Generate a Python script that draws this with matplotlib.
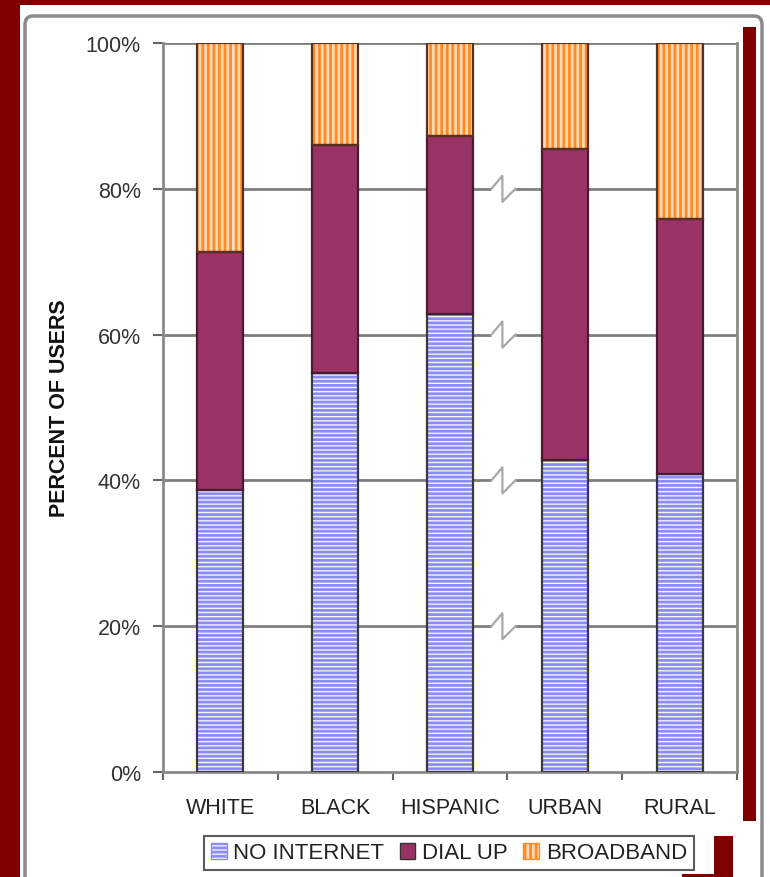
import matplotlib
matplotlib.use("Agg")
import matplotlib.pyplot as plt
from matplotlib.patches import Rectangle, FancyBboxPatch, Patch
import numpy as np

categories = ["WHITE", "BLACK", "HISPANIC", "URBAN", "RURAL"]
no_internet = [38.7, 54.7, 62.8, 42.8, 40.9]
dial_up = [32.6, 31.3, 24.4, 42.7, 35.0]
broadband = [28.7, 14.0, 12.8, 14.5, 24.1]
yticks = [0, 20, 40, 60, 80, 100]
ytick_labels = ["0%", "20%", "40%", "60%", "80%", "100%"]
ylabel = "PERCENT OF USERS"
legend_labels = ["NO INTERNET", "DIAL UP", "BROADBAND"]

plt.rcParams['font.family'] = ['Liberation Sans', 'DejaVu Sans']
plt.rcParams['hatch.linewidth'] = 2.0

W, H = 770, 878
fig = plt.figure(figsize=(W / 100, H / 100), dpi=100)
fig.patch.set_facecolor('white')

def fx(px):
    return px / W

def fy(py):
    return 1 - py / H

# decorative frame
fig.patches.append(Rectangle((0, 0), fx(20), 1, transform=fig.transFigure,
                             facecolor='#800000', edgecolor='none', zorder=0))
fig.patches.append(Rectangle((0, fy(6)), 1, 6 / H, transform=fig.transFigure,
                             facecolor='#800000', edgecolor='none', zorder=0))
fig.patches.append(FancyBboxPatch((fx(25), fy(890)), fx(762 - 25), (890 - 17) / H,
                                  boxstyle="round,pad=0,rounding_size=0.01",
                                  transform=fig.transFigure, facecolor='white',
                                  edgecolor='#8a8a8a', linewidth=2.5, zorder=0.5))
fig.patches.append(Rectangle((fx(743), fy(822)), fx(13), (822 - 28) / H,
                             transform=fig.transFigure, facecolor='#800000',
                             edgecolor='none', zorder=1))
fig.patches.append(Rectangle((fx(714), fy(878)), fx(19), (878 - 837) / H,
                             transform=fig.transFigure, facecolor='#800000',
                             edgecolor='none', zorder=1))
fig.patches.append(Rectangle((fx(682), fy(878)), fx(51), 3 / H,
                             transform=fig.transFigure, facecolor='#800000',
                             edgecolor='none', zorder=1))

ax = fig.add_axes([fx(163), fy(773), fx(737 - 163), (773 - 44) / H])
ax.set_zorder(2)
ax.set_facecolor('none')
ax.set_xlim(0, 5)
ax.set_ylim(0, 100)

x = np.arange(len(categories)) + 0.5
bw = 0.4
edge = '#3a3a3a'

ni = np.array(no_internet)
du = np.array(dial_up)
bb = np.array(broadband)

# gridlines with break marks between HISPANIC and URBAN
grid_col = '#7f7f7f'
px = 5 / 574.0
brk = 3.0
for v in yticks[1:-1]:
    ax.hlines(v, 0, brk - 16 * px, color=grid_col, lw=2, zorder=1)
    ax.hlines(v, brk + 8 * px, 5, color=grid_col, lw=2, zorder=1)
    dy = 100 / 729.0
    ax.plot([brk - 16 * px, brk - 5 * px, brk - 5 * px, brk + 8 * px],
            [v, v + 13 * dy, v - 13 * dy, v], color='#a8a8a8', lw=1.6, zorder=1)
ax.hlines(100, 0, 5, color=grid_col, lw=2, zorder=1)

# bars: hatched fills then outlines
ax.bar(x, ni, bw, color='#f4f4ff', edgecolor='#8c8cff', hatch='----', lw=0, zorder=2)
ax.bar(x, ni, bw, fill=False, edgecolor=edge, lw=1.6, zorder=3)
ax.bar(x, du, bw, bottom=ni, color='#993366', edgecolor='#4a1a30', lw=1.6, zorder=3)
ax.bar(x, bb, bw, bottom=ni + du, color='#ffd9b3', edgecolor='#ff8a26', hatch='|||', lw=0, zorder=2)
ax.bar(x, bb, bw, bottom=ni + du, fill=False, edgecolor='#5a3020', lw=1.6, zorder=3)

for s in ['left', 'right', 'bottom']:
    ax.spines[s].set_color('#8a8a8a')
    ax.spines[s].set_linewidth(2)
ax.spines['top'].set_visible(False)

ax.set_yticks(yticks)
ax.set_yticklabels(ytick_labels)
ax.set_xticks(x)
ax.set_xticklabels(categories)
ax.set_xticks(np.arange(0, 6), minor=True)
ax.tick_params(axis='x', which='major', length=0, pad=18, labelsize=15.5, labelcolor='#222222')
ax.tick_params(axis='x', which='minor', length=6, width=1.5, color='#666666')
ax.tick_params(axis='y', length=7, width=1.5, color='#666666', pad=9, labelsize=15.5,
               labelcolor='#333333')
ax.set_ylabel(ylabel, fontsize=15.5, fontweight='bold', color='#111111')
ax.yaxis.set_label_coords((70 - 163) / 574.0, 0.5)

handles = [Patch(facecolor='#f4f4ff', edgecolor='#8c8cff', hatch='----'),
           Patch(facecolor='#993366', edgecolor='#333333'),
           Patch(facecolor='#ffd9b3', edgecolor='#ff8a26', hatch='|||')]
leg = fig.legend(handles, legend_labels, loc='center', bbox_to_anchor=(fx(449), fy(854)),
                 ncol=3, fontsize=16, frameon=True, fancybox=False, handlelength=0.7,
                 handleheight=0.7, handletextpad=0.3, columnspacing=0.7,
                 borderpad=0.3, labelcolor='#222222')
leg.get_frame().set_edgecolor('#333333')
leg.get_frame().set_linewidth(1.5)

fig.savefig('out.png', dpi=100, facecolor=fig.get_facecolor())
